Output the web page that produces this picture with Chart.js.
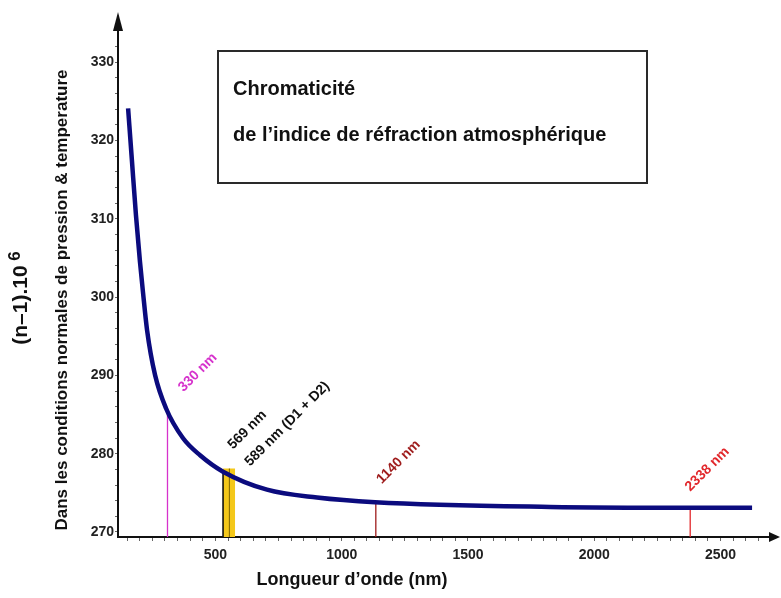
<!DOCTYPE html>
<html><head><meta charset="utf-8">
<script src="https://cdn.jsdelivr.net/npm/chart.js@4"></script>
<style>html,body{margin:0;padding:0;background:#fff;}canvas{display:block}</style>
</head><body>
<canvas id="c" width="781" height="598"></canvas>
<script>
// ---- data ----
const wavelengthNm = [154,169,185,201,213,229,261,304,371,439,530,704,902,1132,1825,2379,2625];
const refractivity = [324.1,317.5,310.5,304.5,300.6,295.8,290.0,285.8,282.0,279.8,277.7,275.4,274.4,273.8,273.2,273.1,273.1];
const markerNm = [310, 530, 1135, 2380];
const markerTop = [285.8, 277.7, 273.8, 273.1];
const markerLabels = ['330 nm', '569 nm', '1140 nm', '2338 nm'];
const bandNm = [530, 578];
const bandTop = 278.1;
const innerNm = 555;
const bandLabel = '589 nm (D1 + D2)';
const yMajorTicks = [270,280,290,300,310,320,330];
const xMajorTicks = [500,1000,1500,2000,2500];
const titleLines = ['Chromaticité', 'de l’indice de réfraction atmosphérique'];
const yTitle = '(n–1).10';
const yTitleExp = '6';
const ySubTitle = 'Dans les conditions normales de pression & temperature';
const xTitle = 'Longueur d’onde (nm)';

// ---- styles ----
const FONT = '"Liberation Sans", Arial, Helvetica, sans-serif';
const markerColors = ['#d632cc', '#111111', '#9e1c1c', '#e2282c'];
const labelOffsets = [[16,-16],[10,-22],[6,-18],[0,-16]];
const bandLabelOffset = [27,-5];
const Y_MIN = 269.36, Y_MAX = 334.1, X_MIN = 114, X_MAX = 2696;

const yTicksAll = []; for (let v = 270; v <= 334; v += 2) yTicksAll.push(v);
const xTicksAll = []; for (let v = 150; v <= 2650; v += 50) xTicksAll.push(v);

const datasets = [];
datasets.push({
  label: 'curve', data: wavelengthNm.map((x,i)=>({x, y: refractivity[i]})),
  borderColor: '#0b0b7e', borderWidth: 4.5, pointRadius: 0, fill: false,
  cubicInterpolationMode: 'monotone', order: 0, borderCapStyle: 'butt'
});
datasets.push({
  label: 'band', data: [{x: bandNm[0], y: bandTop}, {x: bandNm[1], y: bandTop}],
  borderWidth: 0, borderColor: 'rgba(0,0,0,0)', backgroundColor: '#f4c81a',
  fill: {value: 250}, pointRadius: 0, order: 5
});
datasets.push({
  label: 'inner', data: [{x: innerNm, y: 250}, {x: innerNm, y: bandTop}],
  borderColor: '#7a6200', borderWidth: 1, pointRadius: 0, fill: false, order: 4
});
markerNm.forEach((nm, i) => {
  datasets.push({
    label: markerLabels[i], data: [{x: nm, y: 250}, {x: nm, y: markerTop[i]}],
    borderColor: markerColors[i], borderWidth: i === 1 ? 1.6 : 1.3,
    pointRadius: 0, fill: false, order: 3
  });
});

function rotText(ctx, text, x, y, color, font) {
  ctx.save(); ctx.translate(x, y); ctx.rotate(-Math.PI/4);
  ctx.fillStyle = color; ctx.font = font; ctx.textAlign = 'left'; ctx.textBaseline = 'alphabetic';
  ctx.fillText(text, 0, 0); ctx.restore();
}

const decor = {
  id: 'decor',
  afterDraw(chart) {
    const ctx = chart.ctx, a = chart.chartArea;
    const xs = chart.scales.x, ys = chart.scales.y;
    ctx.save();
    // arrows
    ctx.fillStyle = '#111';
    ctx.beginPath(); ctx.moveTo(a.left, 12); ctx.lineTo(a.left - 5, a.top + 1); ctx.lineTo(a.left + 5, a.top + 1); ctx.closePath(); ctx.fill();
    ctx.beginPath(); ctx.moveTo(780, a.bottom); ctx.lineTo(a.right - 1, a.bottom - 5); ctx.lineTo(a.right - 1, a.bottom + 5); ctx.closePath(); ctx.fill();
    // title box
    ctx.strokeStyle = '#2a2a2a'; ctx.lineWidth = 2;
    ctx.strokeRect(218, 51, 429, 132);
    ctx.fillStyle = '#111'; ctx.font = 'bold 20px ' + FONT; ctx.textBaseline = 'middle'; ctx.textAlign = 'left';
    ctx.fillText(titleLines[0], 233, 89);
    ctx.fillText(titleLines[1], 233, 135);
    // y titles
    ctx.save(); ctx.translate(21, 298); ctx.rotate(-Math.PI/2);
    ctx.font = 'bold 21px ' + FONT; ctx.fillStyle = '#111'; ctx.textBaseline = 'middle';
    const w1 = ctx.measureText(yTitle).width;
    ctx.font = 'bold 17px ' + FONT;
    const w2 = ctx.measureText(' ' + yTitleExp).width;
    const start = -(w1 + w2) / 2;
    ctx.font = 'bold 21px ' + FONT; ctx.textAlign = 'left';
    ctx.fillText(yTitle, start, 0);
    ctx.font = 'bold 17px ' + FONT;
    ctx.fillText(' ' + yTitleExp, start + w1, -6);
    ctx.restore();
    ctx.save(); ctx.translate(62, 300); ctx.rotate(-Math.PI/2);
    ctx.font = 'bold 17px ' + FONT; ctx.fillStyle = '#111'; ctx.textAlign = 'center'; ctx.textBaseline = 'middle';
    ctx.fillText(ySubTitle, 0, 0);
    ctx.restore();
    // x title
    ctx.font = 'bold 18px ' + FONT; ctx.fillStyle = '#111'; ctx.textAlign = 'center'; ctx.textBaseline = 'middle';
    ctx.fillText(xTitle, 352, 580);
    // marker labels
    const lf = 'bold 14px ' + FONT;
    markerNm.forEach((nm, i) => {
      const px = xs.getPixelForValue(nm), py = ys.getPixelForValue(markerTop[i]);
      rotText(ctx, markerLabels[i], px + labelOffsets[i][0], py + labelOffsets[i][1], markerColors[i], lf);
    });
    const bx = xs.getPixelForValue(markerNm[1]), by = ys.getPixelForValue(markerTop[1]);
    rotText(ctx, bandLabel, bx + bandLabelOffset[0], by + bandLabelOffset[1], '#111', lf);
    ctx.restore();
  }
};

new Chart(document.getElementById('c'), {
  type: 'line',
  data: { datasets },
  options: {
    responsive: false, animation: false, devicePixelRatio: 1,
    layout: { padding: { top: 30, right: 11, left: 0, bottom: 0 } },
    plugins: { legend: { display: false }, tooltip: { enabled: false }, title: { display: false } },
    scales: {
      x: {
        type: 'linear', min: X_MIN, max: X_MAX,
        afterFit(s) { s.height = 61; },
        afterBuildTicks(s) { s.ticks = xTicksAll.map(v => ({value: v})); },
        ticks: {
          autoSkip: false, maxRotation: 0, padding: 6, color: '#222',
          font: { family: FONT, size: 14, weight: 'bold' },
          callback: v => xMajorTicks.includes(v) ? String(v) : ''
        },
        grid: { drawOnChartArea: false, tickLength: 4, color: '#666', tickWidth: 1 },
        border: { display: true, color: '#111', width: 2 }
      },
      y: {
        type: 'linear', min: Y_MIN, max: Y_MAX,
        afterFit(s) { s.width = 118; },
        afterBuildTicks(s) { s.ticks = yTicksAll.map(v => ({value: v})); },
        ticks: {
          autoSkip: false, padding: 1, color: '#222',
          font: { family: FONT, size: 14, weight: 'bold' },
          callback: v => yMajorTicks.includes(v) ? String(v) : ''
        },
        grid: { drawOnChartArea: false, tickLength: 3, color: '#666', tickWidth: 1 },
        border: { display: true, color: '#111', width: 2 }
      }
    }
  },
  plugins: [decor]
});
</script>
</body></html>
